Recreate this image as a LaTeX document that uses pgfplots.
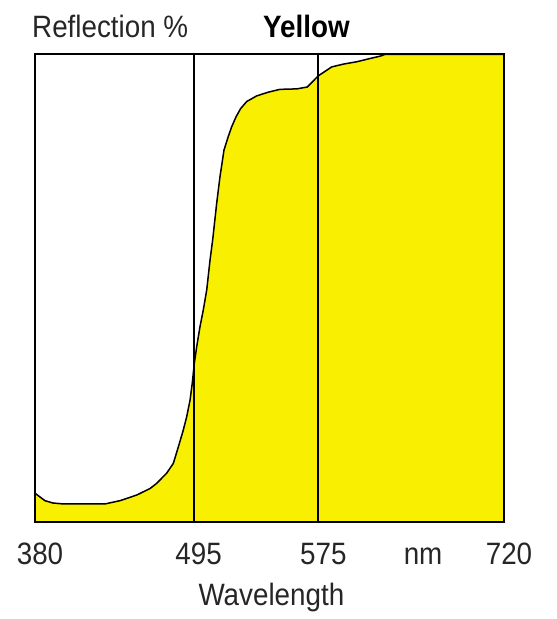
\documentclass[border=0pt]{standalone}
\usepackage{fontspec}
\setmainfont{Liberation Sans}[FakeStretch=0.9]
\usepackage{pgfplots}
\usepackage{pgfplotstable}
\pgfplotsset{compat=1.18}
\definecolor{yfill}{RGB}{248,240,0}
\pgfplotstableread{
x y
380 6.1
387.2 4.5
393 4.0
400.5 3.8
430.7 3.8
441.6 4.5
453.7 5.7
463.4 7.1
468.2 8.2
475.5 10.4
480.3 12.5
483.9 16.0
487.5 19.6
490.0 22.5
492.4 26.0
494.0 29.6
495.5 33.9
497.2 37.4
499.6 41.7
502.0 45.3
504.5 49.6
506.9 56.0
508.8 60.3
511.7 68.1
514.1 73.8
517.0 79.5
520.1 82.4
522.6 84.5
525.7 86.6
529.1 88.4
533.5 89.9
540.7 91.1
549.1 91.9
557.6 92.5
569.7 92.6
577.4 93.0
585.4 95.4
595.1 97.3
603.5 97.9
613.2 98.4
622.9 99.1
630.1 99.6
634 100
720 100
}\curve
\begin{document}
\begin{tikzpicture}
\path[use as bounding box] (-35bp,-97.3bp) rectangle (522bp,521.7bp);
\begin{axis}[
  at={(0,0)}, anchor=south west,
  scale only axis, width=469bp, height=467.4bp,
  xmin=380, xmax=720, ymin=0, ymax=100,
  axis line style={line width=2bp, black},
  axis on top,
  ytick=\empty,
  xtick={380,495,585.4,657.7,720},
  xticklabels={380,495,575,nm,720},
  major tick length=0pt,
  xticklabel style={font=\fontsize{31}{36}\selectfont, text=black!85, anchor=base, yshift=-42.6bp, xshift=5bp, inner sep=0pt},
  xlabel={Wavelength},
  xlabel style={font=\fontsize{31}{36}\selectfont, text=black!85, at={(axis description cs:0.504,0)}, anchor=base, yshift=-83.3bp, inner sep=0pt},
]
\addplot[fill=yfill, draw=none] table {\curve} \closedcycle;
\addplot[black, line width=1.5bp] table {\curve};
\addplot[black, line width=1.8bp] coordinates {(495,0) (495,100)};
\addplot[black, line width=1.8bp] coordinates {(585.4,0) (585.4,100)};
\end{axis}
\node[anchor=base west, inner sep=0pt, text=black!85, font=\fontsize{31}{36}\selectfont] at (-3bp,484.4bp) {Reflection \%};
\node[anchor=base west, inner sep=0pt, text=black, font=\fontsize{31}{36}\selectfont\bfseries] at (228bp,484.4bp) {Yellow};
\end{tikzpicture}
\end{document}
